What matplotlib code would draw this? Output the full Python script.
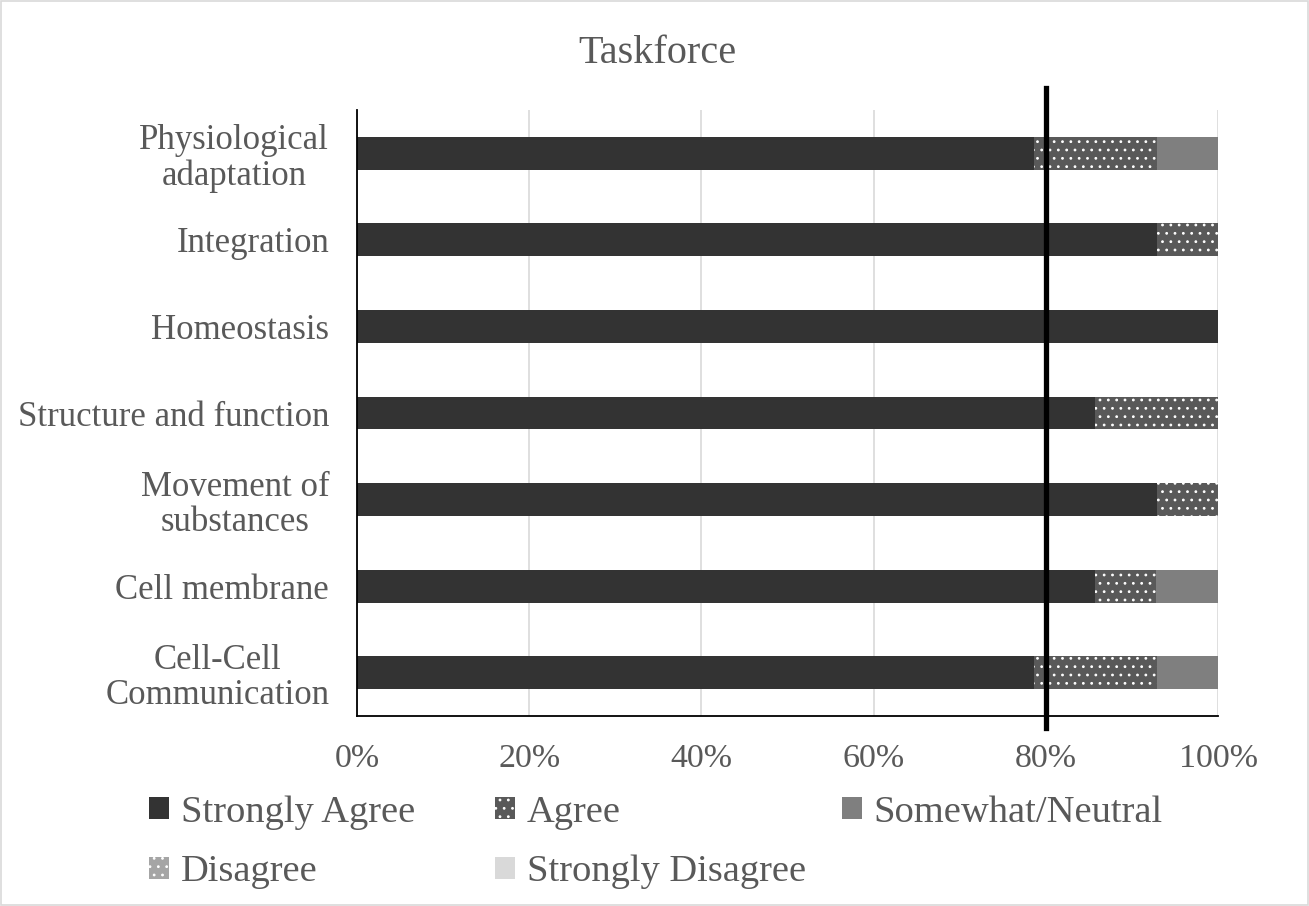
import matplotlib
matplotlib.use("Agg")
import matplotlib.pyplot as plt
import numpy as np
from matplotlib.patches import Rectangle

plt.rcParams['font.family'] = ['Liberation Serif', 'DejaVu Serif']
plt.rcParams['hatch.linewidth'] = 0.8

categories = ["Cell-Cell\nCommunication", "Cell membrane", "Movement of\nsubstances",
              "Structure and function", "Homeostasis", "Integration",
              "Physiological\nadaptation"]
series = ["Strongly Agree", "Agree", "Somewhat/Neutral", "Disagree", "Strongly Disagree"]
strongly_agree = [78.6, 85.7, 92.9, 85.7, 100.0, 92.9, 78.6]
agree = [14.3, 7.1, 7.1, 14.3, 0.0, 7.1, 14.3]
somewhat = [7.1, 7.2, 0.0, 0.0, 0.0, 0.0, 7.1]
disagree = [0, 0, 0, 0, 0, 0, 0]
strongly_disagree = [0, 0, 0, 0, 0, 0, 0]
xticks = [0, 20, 40, 60, 80, 100]
threshold = 80

colors = ["#333333", "#595959", "#7f7f7f", "#a5a5a5", "#d9d9d9"]
hatches = [None, "..", None, "..", None]
text_color = "#595959"

fig = plt.figure(figsize=(13.09, 9.06), dpi=100)
ax = fig.add_axes([0.2727, 0.2097, 0.6578, 0.6689])

y = np.arange(len(categories))
left = np.zeros(len(categories))
handles = []
for vals, name, c, h in zip([strongly_agree, agree, somewhat, disagree, strongly_disagree],
                            series, colors, hatches):
    vals = np.array(vals, dtype=float)
    bars = ax.barh(y, vals, left=left, height=0.38, color=c, hatch=h,
                   edgecolor="white" if h else c, linewidth=0, label=name, zorder=2)
    left += vals
    handles.append(bars)

ax.set_xlim(0, 100)
ax.set_ylim(-0.5, len(categories) - 0.5)
ax.set_yticks(y)
ax.set_yticklabels(categories, fontsize=25, color=text_color, linespacing=1.1)
for t in ax.get_yticklabels():
    t.set_multialignment("center")
ax.set_xticks(xticks)
ax.set_xticklabels([f"{t}%" for t in xticks], fontsize=24.5, color=text_color)
ax.tick_params(axis="y", length=0, pad=20)
ax.tick_params(axis="x", length=0, pad=20)
ax.xaxis.grid(True, color="#d9d9d9", linewidth=1.2, zorder=0)
ax.set_axisbelow(True)
for s in ["top", "right"]:
    ax.spines[s].set_visible(False)
for s in ["left", "bottom"]:
    ax.spines[s].set_color("#000000")
    ax.spines[s].set_linewidth(1.3)

ax.axvline(threshold, ymin=-0.02, ymax=1.036, color="black", linewidth=3.8,
           clip_on=False, zorder=5)

fig.text(0.502, 1 - 63 / 906, "Taskforce", ha="center", va="baseline",
         fontsize=29, color=text_color)

# Legend: three columns placed like the original (row-wise order)
legend_cols = [([0, 3], 149), ([1, 4], 495), ([2], 842)]
for idxs, xpix in legend_cols:
    leg = fig.legend(handles=[handles[i] for i in idxs], labels=[series[i] for i in idxs],
                     loc="upper left", bbox_to_anchor=(xpix / 1309, 1 - 795 / 906),
                     frameon=False, fontsize=27.7, handlelength=0.52, handleheight=0.52,
                     handletextpad=0.3, labelspacing=0.66, borderpad=0, borderaxespad=0)
    for t in leg.get_texts():
        t.set_color(text_color)

fig.patches.append(Rectangle((0.001, 0.001), 0.998, 0.998, transform=fig.transFigure,
                             fill=False, edgecolor="#d9d9d9", linewidth=1.2))

fig.savefig("out.png", dpi=100, facecolor="white")
